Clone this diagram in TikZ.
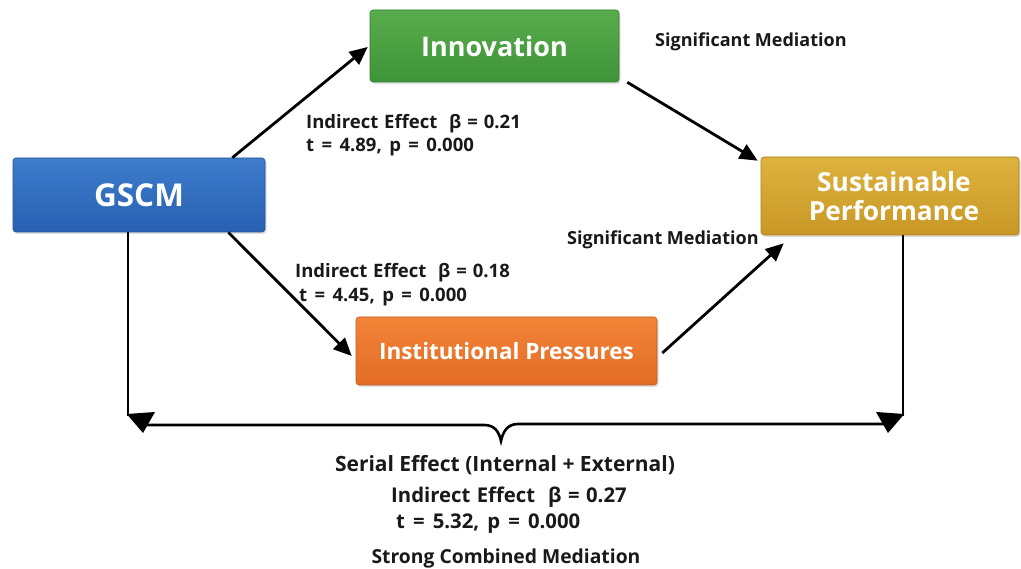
\documentclass[tikz,border=0pt]{standalone}
\usepackage{fontspec}
\setmainfont{Open Sans}
\usetikzlibrary{arrows.meta,calc,shadows}
\definecolor{bluetop}{RGB}{62,124,204}
\definecolor{bluebot}{RGB}{40,96,178}
\definecolor{greentop}{RGB}{88,172,76}
\definecolor{greenbot}{RGB}{62,148,56}
\definecolor{goldtop}{RGB}{222,178,62}
\definecolor{goldbot}{RGB}{200,152,38}
\definecolor{orangetop}{RGB}{242,132,56}
\definecolor{orangebot}{RGB}{226,108,36}
\definecolor{txt}{RGB}{25,25,25}
\newcommand{\widesp}{\spaceskip=0.4em plus 0.1em\relax}
\newcommand{\midsp}{\spaceskip=0.32em plus 0.1em\relax}
\tikzset{
  box/.style={rounded corners=3pt, draw=#1bot!85!black, line width=0.6pt,
    top color=#1top, bottom color=#1bot, text=white, font=\bfseries,
    align=center, inner sep=0pt,
    drop shadow={opacity=0.25, shadow xshift=1.5pt, shadow yshift=-2pt}},
  conn/.style={line width=2.8pt, draw=black, -{Triangle[length=18pt,width=16pt]}},
  plain/.style={line width=2.6pt, draw=black},
  lbl/.style={text=txt, font=\bfseries, inner sep=0pt, align=left}
}
\begin{document}
\begin{tikzpicture}[x=1pt,y=-1pt]
\useasboundingbox (0,0) rectangle (1021,569);
\fill[white] (0,0) rectangle (1021,569);

\node[box=blue, minimum width=252pt, minimum height=74pt, font=\bfseries\fontsize{31.5}{34}\selectfont] (gscm) at (139,195) {GSCM};
\node[box=green, minimum width=249pt, minimum height=72pt, font=\bfseries\fontsize{27}{30}\selectfont] (innov) at (494.5,46) {Innovation};
\node[box=gold, minimum width=258pt, minimum height=78pt, font=\bfseries\fontsize{26.3}{29.5}\selectfont] (sust) at (890,196) {\hspace*{8pt}Sustainable\\\hspace*{8pt}Performance};
\node[box=orange, minimum width=301pt, minimum height=68pt, font=\bfseries\fontsize{22.5}{26}\selectfont] (inst) at (506.5,351) {Institutional Pressures};

\draw[conn] ($(gscm.north east)+(-33,0)$) -- ($(innov.west)+(-2,1)$);
\draw[conn] ($(innov.south east)+(8,0)$) -- ($(sust.north west)+(-3,4)$);
\draw[conn] ($(gscm.south east)+(-37,0)$) -- ($(inst.west)+(-4,5)$);
\draw[conn] ($(inst.east)+(5,2)$) -- ($(sust.south west)+(23,8)$);

\coordinate (bl) at (128,416);
\coordinate (br) at (903,416);
\draw[plain] ($(gscm.south)+(-11,0)$) -- (bl);
\draw[plain] ($(sust.south)+(13,0)$) -- (br);
\fill[black] (126.7,414) -- (155,412) -- (143,433) -- cycle;
\fill[black] (904.3,414) -- (876,412) -- (888,433) -- cycle;
\coordinate (bL) at (143,425);
\coordinate (bR) at (888,424);
\draw[plain] (bL) -- (484,425) .. controls (495,425) and (499,432) .. (501,441)
  .. controls (503,432) and (507,424) .. (518,424) -- (bR);

\node[lbl, anchor=west, font=\bfseries\fontsize{18}{22}\selectfont] (sm1) at (655,42) {Significant Mediation};
\node[lbl, anchor=west, font=\bfseries\fontsize{18}{22}\selectfont] (sm2) at (567,240) {Significant Mediation};
\node[lbl, anchor=west, font=\bfseries\fontsize{18.5}{22.5}\selectfont] (ie1) at (306,135) {{\midsp Indirect Effect\ \ β = 0.21}\\{\widesp t = 4.89, p = 0.000}};
\node[lbl, anchor=west, font=\bfseries\fontsize{18.5}{24}\selectfont] (ie2) at (295,285) {{\midsp Indirect Effect\ \ β = 0.18}\\\hspace*{4pt}{\widesp t = 4.45, p = 0.000}};
\node[lbl, anchor=center, font=\bfseries\fontsize{21}{24}\selectfont] (ser) at (505,465) {Serial Effect (Internal + External)};
\node[lbl, anchor=west, font=\bfseries\fontsize{20.3}{24}\selectfont] (ie3) at (391,497) {\midsp Indirect Effect\ \ β = 0.27};
\node[lbl, anchor=west, font=\bfseries\fontsize{20.3}{24}\selectfont] (ts3) at (396,524) {\widesp t = 5.32, p = 0.000};
\node[lbl, anchor=center, font=\bfseries\fontsize{19.3}{22}\selectfont] (scm) at (506,558) {Strong Combined Mediation};
\end{tikzpicture}
\end{document}
